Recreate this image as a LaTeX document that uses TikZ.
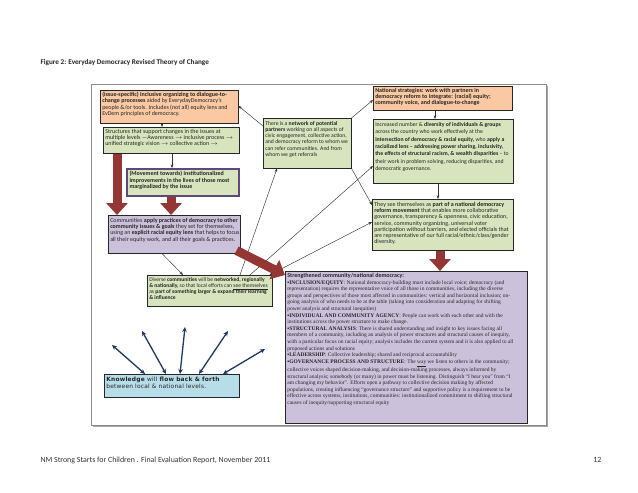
\documentclass[tikz,border=0pt]{standalone}
\usepackage{fontspec}
\setmainfont{Carlito}
\newfontfamily\dvs[LetterSpace=3.5]{DejaVu Sans}
\newfontfamily\lser{Liberation Serif}
\usetikzlibrary{arrows.meta,calc}
\definecolor{orng}{HTML}{FAC8A2}
\definecolor{grn}{HTML}{D7E4BD}
\definecolor{lav}{HTML}{CCC1DA}
\definecolor{lblue}{HTML}{B7DEE8}
\definecolor{darkred}{HTML}{943634}
\definecolor{navyc}{HTML}{1F3763}
\definecolor{purp}{HTML}{5F497A}
\newcommand{\tbx}[3]{\parbox[t][#2pt][t]{#1pt}{\raggedright #3}}
\newcommand{\myln}[1]{\mbox{#1}\\}
\newcommand{\rarr}{\ensuremath{\rightarrow}}
\begin{document}
\begin{tikzpicture}[x=1pt,y=-1pt,
  box/.style={draw=black!85, line width=0.5pt, inner sep=2pt, anchor=north west,
    font=\fontsize{6}{6.2}\selectfont, text=black!85},
  thinarrow/.style={draw=black!80, line width=0.45pt, -{Stealth[length=3.6pt,width=2.8pt]}},
  thinboth/.style={draw=black!80, line width=0.45pt, {Stealth[length=3.6pt,width=2.8pt]}-{Stealth[length=3.6pt,width=2.8pt]}},
  bigarrow/.style={draw=darkred, line width=9pt, -{Triangle[width=21pt,length=12pt]}},
  navyarrow/.style={draw=navyc, line width=1.3pt, {Stealth[length=5pt,width=4.5pt]}-{Stealth[length=5pt,width=4.5pt]}}]
\useasboundingbox (0,0) rectangle (638,493);
\fill[white] (0,0) rectangle (638,493);

% title and footer
\node[anchor=west, font=\fontsize{7.2}{8}\selectfont\bfseries, text=black!85] (title) at (37,63) {Figure 2: Everyday Democracy Revised Theory of Change};
\node[anchor=west, font=\fontsize{7.9}{9}\selectfont, text=black!80] (foot) at (37,460) {NM Strong Starts for Children . Final Evaluation Report, November 2011};
\node[anchor=east, font=\fontsize{7.9}{9}\selectfont, text=black!80] (pg) at (605,460) {12};

% frame
\fill[black!35] (93,86) rectangle (548,427);
\draw[black!45, fill=white, line width=0.6pt] (91,84) rectangle (546,425);

% boxes
\node[box, fill=orng] (b1) at (100,90) {\tbx{134}{29}{\myln{\textbf{(issue-specific) inclusive organizing to dialogue-to-}}\myln{\textbf{change processes} aided by EverydayDemocracy's}\myln{people \&/or tools. Includes (not all) equity lens and}\mbox{EvDem principles of democracy.}}};
\node[box, fill=grn] (b2) at (103,127) {\tbx{132}{22}{\myln{Structures that support changes in the issues at}\myln{multiple levels ---Awareness \rarr{} inclusive process \rarr{}}\mbox{unified strategic vision \rarr{} collective action \rarr}}};
\node[box, fill=grn, draw=purp, line width=2pt, inner sep=2.5pt] (b3) at (126,168) {\tbx{107}{22}{\bfseries\myln{(Movement towards) institutionalized}\myln{improvements in the lives of those most}\mbox{marginalized by the issue}}};
\node[box, fill=lav] (b4) at (108,215) {\tbx{128}{34}{\vspace{1pt}\myln{Communities \textbf{apply practices of democracy to other}}\myln{\textbf{community issues \& goals} they set for themselves,}\myln{using an \textbf{explicit racial equity lens} that helps to focus}\mbox{all their equity work, and all their goals \& practices.}}};
\node[box, fill=grn, font=\fontsize{5.55}{6.2}\selectfont] (b6) at (147,275) {\tbx{121}{27}{\myln{Diverse \textbf{communities} will be \textbf{networked, regionally}}\myln{\textbf{\& nationally,} so that local efforts can \underline{see themselves}}\myln{as \textbf{part of something larger \& expand their learning}}\mbox{\textbf{\& influence}}}};
\node[box, fill=grn, font=\fontsize{5.7}{6.2}\selectfont] (net) at (263,118) {\tbx{84}{46}{\vspace{1pt}\myln{There is a \textbf{network of potential}}\myln{\textbf{partners} working on all aspects of}\myln{civic engagement, collective action,}\myln{and democracy reform to whom we}\myln{can refer communities. And from}\mbox{whom we get referrals}}};
\node[box, fill=orng] (n1) at (373,86) {\tbx{135}{20}{\bfseries\myln{National strategies: work with partners in}\myln{democracy reform to integrate: (racial) equity;}\mbox{community voice, and dialogue-to-change}}};
\node[box, fill=grn, font=\fontsize{5.75}{7.4}\selectfont] (n2) at (373,119) {\tbx{136}{60}{\vspace{1pt}\myln{Increased number \& \textbf{diversity of individuals \& groups}}\myln{across the country who work effectively at the}\myln{\textbf{intersection of democracy \& racial equity,} who \textbf{apply a}}\myln{\textbf{racialized lens -- addressing power sharing, inclusivity,}}\myln{\textbf{the effects of structural racism, \& wealth disparities} -- to}\myln{their work in problem solving, reducing disparities, and}\mbox{democratic governance.}}};
\node[box, fill=grn] (n3) at (372,199) {\tbx{137}{47}{\vspace{1pt}\myln{They see themselves as \textbf{part of a national democracy}}\myln{\textbf{reform movement} that enables more collaborative}\myln{governance, transparency \& openness, civic education,}\myln{service, community organizing, universal voter}\myln{participation without barriers, and elected officials that}\myln{are representative of our full racial/ethnic/class/gender}\mbox{diversity.}}};
\node[box, fill=lav, line width=0.7pt] (big) at (285,271) {\tbx{238}{148}{\myln{\fontsize{6}{6.6}\selectfont\bfseries Strengthened community/national democracy:}
{\lser\fontsize{5.5}{6.6}\selectfont
\myln{▪\textbf{INCLUSION/EQUITY}: National democracy-building must include local voice; democracy (and}
\myln{representation) requires the representative voice of all those in communities, including the diverse}
\myln{groups and perspectives of those most affected in communities: vertical and horizontal inclusion; on-}
\myln{going analysis of who needs to be at the table (taking into consideration and adapting for shifting}
\myln{power analysis and structural inequities)}
\myln{▪\textbf{INDIVIDUAL AND COMMUNITY AGENCY}: People can work with each other and with the}
\myln{institutions across the power structure to make change.}
\myln{▪\textbf{STRUCTURAL ANALYSIS}: There is shared understanding and insight to key issues facing all}
\myln{members of a community, including an analysis of power structures and structural causes of inequity,}
\myln{with a particular focus on racial equity; analysis includes the current system and it is also applied to all}
\myln{proposed actions and solutions}
\myln{▪\textbf{LEADERSHIP}: Collective leadership; shared and reciprocal accountability}
\myln{▪\textbf{GOVERNANCE PROCESS AND STRUCTURE}: The \underline{way} we listen to others in the community;}
\myln{collective voices shaped decision-making, and decision-making processes, always informed by}
\myln{structural analysis; somebody (or many) in power must be listening. Distinguish “I hear you” from “I}
\myln{am changing my behavior”. Efforts open a pathway to collective decision making by affected}
\myln{populations, creating influencing “governance structure” and supportive policy is a requirement to be}
\myln{effective across systems, institutions, communities: institutionalized commitment to shifting structural}
\mbox{causes of inequity/supporting structural equity}}}};
\node[box, fill=lblue, line width=0.8pt, font=\dvs\fontsize{5.9}{7.8}\selectfont] (blue) at (104,374) {\tbx{131}{19}{\vspace{0.3pt}\myln{\textbf{Knowledge} will \textbf{flow back \& forth}}\mbox{between local \& national levels.}}};

% thin connectors
\draw[thinarrow] ([xshift=62pt]b1.south west) -- ([xshift=59pt]b2.north west);
\draw[thinarrow] ([xshift=69pt]b2.south west) -- ([xshift=46pt]b3.north west);
\draw[thinarrow] ([yshift=-8pt]net.north west) -- ([yshift=-16pt]b1.north east);
\draw[thinarrow] (net.north east) -- ([yshift=-14pt]n1.north west);
\draw[thinarrow] ([xshift=62pt]n1.south west) -- ([xshift=62pt]n2.north west);
\draw[thinarrow] ([xshift=65pt]n2.south west) -- ([xshift=66pt]n3.north west);
\draw[thinarrow] ([xshift=54pt]b4.south west) -- ([xshift=36pt]b6.north west);
\draw[thinarrow] ([xshift=93pt]b6.north west) -- ([xshift=14pt]net.south west);
\draw[thinarrow] ([xshift=103pt]b6.north west) -- ([yshift=-47pt]n2.north west);
\draw[thinboth] ([xshift=-3pt]b6.north east) -- ([yshift=-23pt]n3.north west);
\draw[thinarrow] (net.south east) -- ([yshift=-6pt]n3.north west);

% block arrows
\draw[bigarrow] ([xshift=14pt]b2.south west) -- ([xshift=9pt]b4.north west);
\draw[bigarrow] ([xshift=45pt]b3.south west) -- ([xshift=63pt]b4.north west);
\draw[bigarrow] ([xshift=-4pt,yshift=3pt]b4.south east) -- ([yshift=-4pt]big.north west);
\draw[bigarrow] ([xshift=68pt]n3.south west) -- ([xshift=155pt]big.north west);

% knowledge arrows
\coordinate (k1) at (112,345);
\coordinate (k2) at (142,331);
\coordinate (k3) at (185,327);
\coordinate (k4) at (228,331);
\coordinate (k5) at (265,349);
\draw[navyarrow] ([xshift=41pt]blue.north west) -- (k1);
\draw[navyarrow] ([xshift=62pt]blue.north west) -- (k2);
\draw[navyarrow] ([xshift=76pt]blue.north west) -- (k3);
\draw[navyarrow] ([xshift=95pt]blue.north west) -- (k4);
\draw[navyarrow] ([xshift=119pt]blue.north west) -- (k5);
\end{tikzpicture}
\end{document}
